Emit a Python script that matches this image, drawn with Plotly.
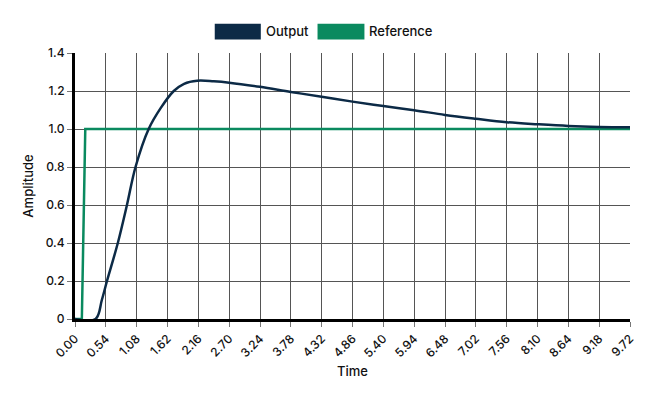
import plotly.graph_objects as go

# step response
output_t = [0, 0.36, 0.47, 0.56, 0.75, 0.91, 1.06, 1.29, 1.50, 1.73, 1.91, 2.14, 2.43,
            2.70, 3.24, 3.78, 4.32, 4.86, 5.40, 5.94, 6.48, 7.02, 7.56, 8.10, 8.64, 9.18, 9.72]
output_y = [0, 0, 0.10, 0.20, 0.40, 0.60, 0.80, 1.00, 1.11, 1.20, 1.238, 1.254, 1.251,
            1.244, 1.222, 1.195, 1.170, 1.144, 1.121, 1.099, 1.074, 1.054, 1.036, 1.025, 1.016, 1.011, 1.009]

reference_t = [0, 0.12, 0.18, 9.72]
reference_y = [0, 0, 1, 1]

x_ticks = [round(i * 0.54, 2) for i in range(19)]
x_labels = ["%.2f" % v for v in x_ticks]
y_ticks = [0, 0.2, 0.4, 0.6, 0.8, 1.0, 1.2, 1.4]
y_labels = ["0", "0.2", "0.4", "0.6", "0.8", "1.0", "1.2", "1.4"]

navy = "#0c2a46"
green = "#0a8a5f"
font = "Inter"

fig = go.Figure()
fig.add_trace(go.Scatter(x=reference_t, y=reference_y, mode="lines", name="Reference",
                         line=dict(color=green, width=2.5), showlegend=False))
fig.add_trace(go.Scatter(x=output_t, y=output_y, mode="lines", name="Output",
                         line=dict(color=navy, width=2.5, shape="spline", smoothing=1.0), showlegend=False))

# hand-made legend with wide swatches
legend = [("Output", navy, 0.2518, 0.3348, 0.340), ("Reference", green, 0.437, 0.5215, 0.526)]
for name, col, x0, x1, xt in legend:
    fig.add_shape(type="rect", xref="paper", yref="paper", x0=x0, x1=x1, y0=1.051, y1=1.110,
                  fillcolor=col, line=dict(width=0))
    fig.add_annotation(text=name, xref="paper", yref="paper", x=xt, y=1.081, xanchor="left",
                       yanchor="middle", showarrow=False,
                       font=dict(family=font, size=13, color="#111", weight=500))

fig.update_layout(
    width=660, height=403,
    margin=dict(l=67, r=38, t=45, b=92),
    paper_bgcolor="white", plot_bgcolor="white",
    font=dict(family=font, size=12, color="#111", weight=500),
    showlegend=False,
)
fig.update_xaxes(
    range=[0, 9.72], tickmode="array", tickvals=x_ticks, ticktext=x_labels, tickangle=-45,
    showgrid=True, gridcolor="#555", gridwidth=1.2,
    showline=True, linecolor="black", linewidth=3, layer="above traces",
    ticks="outside", ticklen=5, tickcolor="#777",
    title=dict(text="Time", font=dict(size=13, weight=500), standoff=8), zeroline=False,
)
fig.update_yaxes(
    range=[0, 1.4], tickmode="array", tickvals=y_ticks, ticktext=y_labels,
    showgrid=True, gridcolor="#555", gridwidth=1.2,
    showline=True, linecolor="black", linewidth=3, layer="above traces",
    ticks="outside", ticklen=5, tickcolor="#777",
    title=dict(text="Amplitude", font=dict(size=13, weight=500), standoff=10), zeroline=False,
)

fig.write_html("out.html")
